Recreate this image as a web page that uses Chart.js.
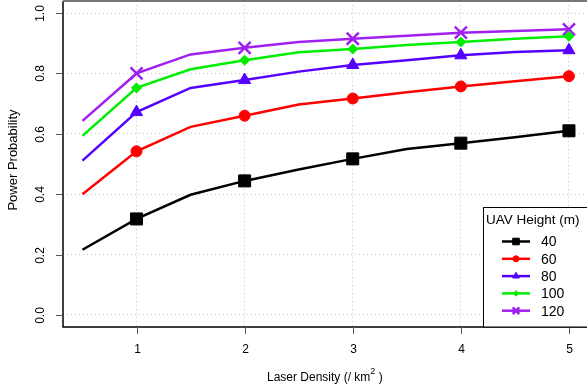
<!DOCTYPE html>
<html>
<head>
<meta charset="utf-8">
<script src="https://cdn.jsdelivr.net/npm/chart.js@4.4.0/dist/chart.umd.min.js"></script>
<style>
  html, body { margin: 0; padding: 0; background: #fff; overflow: hidden; }
  #wrap { width: 587px; height: 389px; }
</style>
</head>
<body>
<div id="wrap"><canvas id="chart" width="587" height="389"></canvas></div>
<script>
// data
const densities = [0.5, 1, 1.5, 2, 2.5, 3, 3.5, 4, 4.5, 5];
const heights = ['40', '60', '80', '100', '120'];
const h40 = [0.216, 0.318, 0.398, 0.444, 0.482, 0.517, 0.550, 0.569, 0.589, 0.610];
const h60 = [0.400, 0.542, 0.623, 0.660, 0.697, 0.717, 0.738, 0.757, 0.774, 0.791];
const h80 = [0.511, 0.672, 0.752, 0.778, 0.806, 0.828, 0.844, 0.860, 0.871, 0.877];
const h100 = [0.593, 0.752, 0.814, 0.844, 0.870, 0.881, 0.894, 0.904, 0.915, 0.923];
const h120 = [0.643, 0.800, 0.863, 0.885, 0.904, 0.915, 0.925, 0.935, 0.941, 0.946];
const xTicks = [1, 2, 3, 4, 5];
const yTicks = [0, 0.2, 0.4, 0.6, 0.8, 1.0];

const colors = ['#000000', '#ff0000', '#5500ff', '#00ee00', '#a020f0'];
const styles = ['rect', 'circle', 'triangle', 'rectRot', 'crossRot'];
const sizes = [8.5, 5.5, 7, 5, 8.5];
const series = [h40, h60, h80, h100, h120];

const FONT = '"Liberation Sans", Arial, sans-serif';

const datasets = series.map((vals, i) => ({
  label: heights[i],
  data: densities.map((x, j) => ({ x: x, y: vals[j] })),
  borderColor: colors[i],
  backgroundColor: colors[i],
  borderWidth: 2.5,
  pointStyle: styles[i],
  pointRadius: densities.map(x => Number.isInteger(x) ? sizes[i] : 0),
  pointBorderWidth: i === 4 ? 2.5 : 1,
  tension: 0,
}));

// axes, ticks, labels and the legend box drawn by hand, R style
const rAxes = {
  id: 'rAxes',
  afterDraw(chart) {
    const ctx = chart.ctx;
    const a = chart.chartArea;
    const xs = chart.scales.x, ys = chart.scales.y;
    ctx.save();
    // box
    ctx.strokeStyle = '#000';
    ctx.lineWidth = 1.5;
    ctx.beginPath();
    ctx.moveTo(a.left, a.top);
    ctx.lineTo(a.left, a.bottom);
    ctx.lineTo(a.right, a.bottom);
    ctx.stroke();
    ctx.strokeStyle = '#777';
    ctx.lineWidth = 2;
    ctx.beginPath();
    ctx.moveTo(a.left, a.top);
    ctx.lineTo(a.right, a.top);
    ctx.stroke();

    ctx.fillStyle = '#000';
    ctx.font = '12px ' + FONT;
    ctx.strokeStyle = '#555';
    ctx.lineWidth = 1;
    // x ticks
    xTicks.forEach(v => {
      const px = Math.round(xs.getPixelForValue(v)) + 0.5;
      ctx.beginPath();
      ctx.moveTo(px, a.bottom);
      ctx.lineTo(px, a.bottom + 7);
      ctx.stroke();
      ctx.textAlign = 'center';
      ctx.textBaseline = 'middle';
      ctx.fillText(String(v), px, a.bottom + 23);
    });
    // y ticks
    yTicks.forEach(v => {
      const py = Math.round(ys.getPixelForValue(v)) + 0.5;
      ctx.beginPath();
      ctx.moveTo(a.left, py);
      ctx.lineTo(a.left - 7, py);
      ctx.stroke();
      ctx.save();
      ctx.translate(a.left - 22, py);
      ctx.rotate(-Math.PI / 2);
      ctx.textAlign = 'center';
      ctx.textBaseline = 'middle';
      ctx.fillText(v.toFixed(1), 0, 0);
      ctx.restore();
    });
    // axis titles
    ctx.save();
    ctx.font = '13px ' + FONT;
    ctx.translate(13, 160);
    ctx.rotate(-Math.PI / 2);
    ctx.textAlign = 'center';
    ctx.textBaseline = 'middle';
    ctx.fillText('Power Probability', 0, 0);
    ctx.restore();
    ctx.textAlign = 'left';
    ctx.textBaseline = 'middle';
    const t1 = 'Laser Density (/ km';
    const w1 = ctx.measureText(t1).width;
    const tx = 267;
    ctx.fillText(t1, tx, 378);
    ctx.font = '9px ' + FONT;
    ctx.fillText('2', tx + w1, 372);
    ctx.font = '12px ' + FONT;
    ctx.fillText(' )', tx + w1 + 5, 378);

    // legend
    const lx = 483.5, ly = 207.5;
    ctx.fillStyle = '#fff';
    ctx.fillRect(lx, ly, a.right - lx + 5, a.bottom - ly);
    ctx.strokeStyle = '#000';
    ctx.lineWidth = 1;
    ctx.strokeRect(lx, ly, a.right - lx + 5, a.bottom - ly);
    ctx.fillStyle = '#000';
    ctx.font = '13.5px ' + FONT;
    ctx.textAlign = 'left';
    ctx.fillText('UAV Height (m)', 486, 220);
    ctx.font = '14px ' + FONT;
    heights.forEach((h, i) => {
      const y = 241.5 + i * 17.3;
      ctx.strokeStyle = colors[i];
      ctx.fillStyle = colors[i];
      ctx.lineWidth = 2.5;
      ctx.beginPath();
      ctx.moveTo(502, y);
      ctx.lineTo(530, y);
      ctx.stroke();
      ctx.lineWidth = i === 4 ? 2.5 : 1;
      Chart.helpers.drawPoint(ctx, { pointStyle: styles[i], radius: sizes[i] * 0.55, rotation: 0, borderWidth: ctx.lineWidth }, 516, y);
      ctx.fillStyle = '#000';
      ctx.fillText(h, 541, y + 1);
    });
    ctx.restore();
  }
};

new Chart(document.getElementById('chart'), {
  type: 'line',
  data: { datasets: datasets },
  options: {
    responsive: false,
    animation: false,
    layout: { autoPadding: false, padding: { left: 63, top: 1, right: 0, bottom: 62 } },
    plugins: { legend: { display: false }, tooltip: { enabled: false } },
    scales: {
      x: {
        type: 'linear',
        min: 0.32,
        max: 5.167,
        afterBuildTicks: s => { s.ticks = xTicks.map(v => ({ value: v })); },
        ticks: { display: false },
        grid: { color: '#c8c8c8', lineWidth: 1, drawTicks: false },
        border: { display: false, dash: [1, 3] },
      },
      y: {
        type: 'linear',
        min: -0.04,
        max: 1.04,
        afterBuildTicks: s => { s.ticks = yTicks.map(v => ({ value: v })); },
        ticks: { display: false },
        grid: { color: '#c8c8c8', lineWidth: 1, drawTicks: false },
        border: { display: false, dash: [1, 3] },
      },
    },
  },
  plugins: [rAxes],
});
</script>
</body>
</html>
